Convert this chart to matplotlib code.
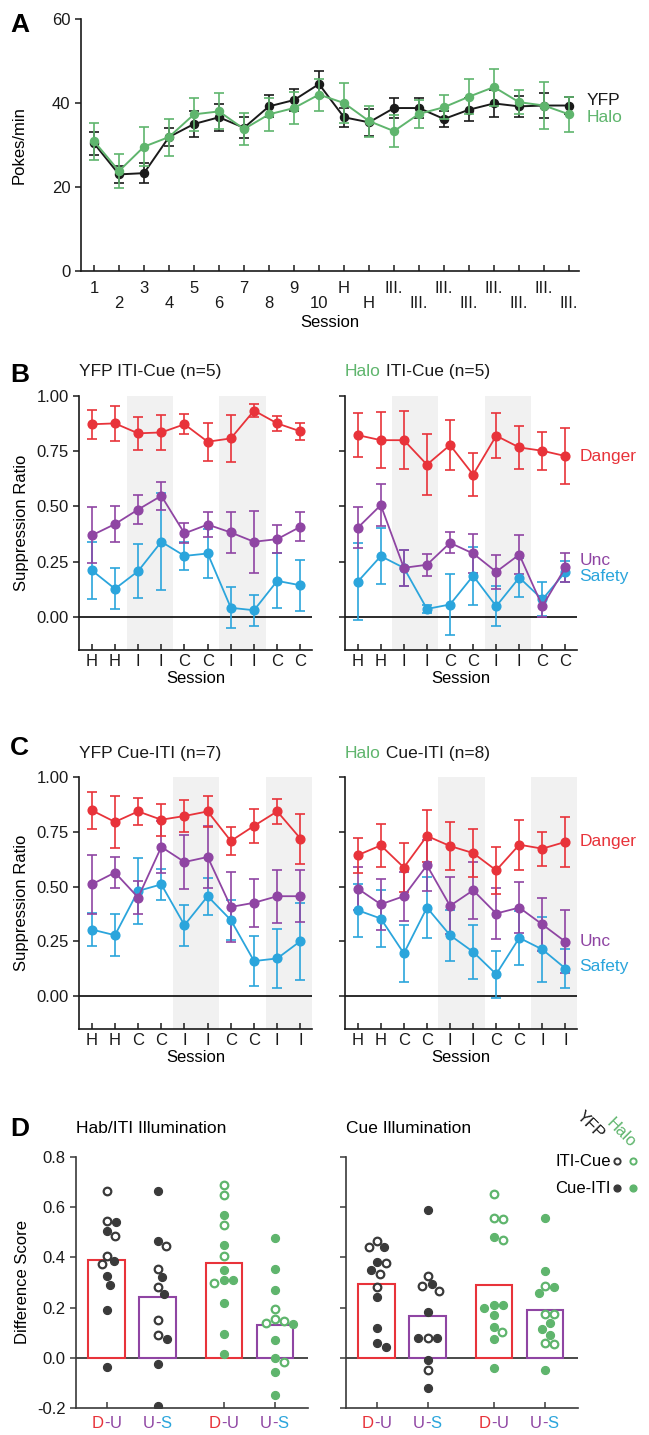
import matplotlib
matplotlib.use("Agg")
import matplotlib.pyplot as plt
import numpy as np
from matplotlib import transforms

plt.rcParams["font.family"] = ["Liberation Sans", "DejaVu Sans"]
plt.rcParams["font.size"] = 12

W, H = 649, 1435
BLACK = "#1a1a1a"
GREEN = "#5fb56d"
RED = "#e8333a"
PURPLE = "#8f45a3"
CYAN = "#2ba5dc"
DARK = "#3a3a3a"
SHADE = "#f1f1f1"

# ---- panel A: pokes per minute across sessions ----
A_SESSIONS = ["1", "2", "3", "4", "5", "6", "7", "8", "9", "10", "H", "H",
              "III.", "III.", "III.", "III.", "III.", "III.", "III.", "III."]
YFP_POKES = [30.4, 23.0, 23.3, 31.9, 35.0, 36.6, 34.1, 39.2, 40.7, 44.5,
             36.6, 35.4, 38.8, 38.8, 36.2, 38.4, 39.9, 39.2, 39.4, 39.4]
YFP_POKES_ERR = [2.7, 2.1, 2.3, 2.2, 3.2, 3.2, 2.5, 2.6, 2.6, 3.1,
                 2.3, 3.2, 2.4, 2.3, 1.9, 2.7, 3.2, 2.5, 2.9, 2.0]
HALO_POKES = [30.9, 23.8, 29.6, 31.9, 37.3, 38.0, 33.8, 37.3, 38.8, 42.0,
              40.0, 35.7, 33.3, 37.4, 39.0, 41.5, 43.8, 40.2, 39.4, 37.3]
HALO_POKES_ERR = [4.4, 4.0, 4.6, 4.4, 4.0, 4.3, 3.8, 4.0, 3.8, 3.8,
                  4.8, 3.7, 3.8, 3.4, 2.8, 4.1, 4.4, 2.8, 5.7, 4.2]

# ---- panel B: ITI-Cue groups ----
B_SESSIONS = ["H", "H", "I", "I", "C", "C", "I", "I", "C", "C"]
B_SHADE = [(1.5, 3.5), (5.5, 7.5)]
B_YFP_DANGER = [0.872, 0.876, 0.831, 0.835, 0.872, 0.793, 0.808, 0.934, 0.876, 0.840]
B_YFP_DANGER_ERR = [0.065, 0.080, 0.075, 0.078, 0.046, 0.087, 0.107, 0.028, 0.035, 0.038]
B_YFP_UNC = [0.369, 0.420, 0.486, 0.548, 0.378, 0.418, 0.382, 0.340, 0.352, 0.408]
B_YFP_UNC_ERR = [0.127, 0.082, 0.065, 0.064, 0.045, 0.057, 0.093, 0.141, 0.065, 0.066]
B_YFP_SAFETY = [0.211, 0.127, 0.207, 0.340, 0.276, 0.287, 0.041, 0.030, 0.163, 0.143]
B_YFP_SAFETY_ERR = [0.128, 0.092, 0.123, 0.219, 0.064, 0.110, 0.093, 0.070, 0.124, 0.115]
B_HALO_DANGER = [0.823, 0.800, 0.800, 0.689, 0.778, 0.644, 0.820, 0.767, 0.752, 0.728]
B_HALO_DANGER_ERR = [0.100, 0.128, 0.132, 0.138, 0.113, 0.098, 0.102, 0.099, 0.087, 0.125]
B_HALO_UNC = [0.403, 0.506, 0.222, 0.236, 0.335, 0.287, 0.204, 0.282, 0.048, 0.224]
B_HALO_UNC_ERR = [0.093, 0.094, 0.083, 0.050, 0.048, 0.089, 0.078, 0.087, 0.047, 0.065]
B_HALO_SAFETY = [0.159, 0.275, 0.222, 0.036, 0.056, 0.186, 0.048, 0.178, 0.079, 0.204]
B_HALO_SAFETY_ERR = [0.174, 0.128, 0.080, 0.020, 0.140, 0.130, 0.090, 0.087, 0.077, 0.047]

# ---- panel C: Cue-ITI groups ----
C_SESSIONS = ["H", "H", "C", "C", "I", "I", "C", "C", "I", "I"]
C_SHADE = [(3.5, 5.5), (7.5, 9.5)]
C_YFP_DANGER = [0.848, 0.795, 0.843, 0.805, 0.822, 0.843, 0.708, 0.777, 0.843, 0.719]
C_YFP_DANGER_ERR = [0.085, 0.118, 0.062, 0.072, 0.075, 0.070, 0.066, 0.076, 0.058, 0.114]
C_YFP_UNC = [0.510, 0.564, 0.450, 0.681, 0.612, 0.635, 0.407, 0.426, 0.456, 0.456]
C_YFP_UNC_ERR = [0.133, 0.072, 0.076, 0.120, 0.122, 0.140, 0.158, 0.110, 0.120, 0.118]
C_YFP_SAFETY = [0.304, 0.278, 0.480, 0.510, 0.324, 0.456, 0.347, 0.160, 0.172, 0.251]
C_YFP_SAFETY_ERR = [0.076, 0.097, 0.152, 0.072, 0.093, 0.084, 0.091, 0.116, 0.133, 0.176]
C_HALO_DANGER = [0.643, 0.688, 0.587, 0.731, 0.685, 0.653, 0.574, 0.691, 0.673, 0.704]
C_HALO_DANGER_ERR = [0.080, 0.097, 0.110, 0.120, 0.110, 0.110, 0.108, 0.115, 0.077, 0.114]
C_HALO_UNC = [0.491, 0.419, 0.456, 0.597, 0.412, 0.483, 0.377, 0.404, 0.327, 0.248]
C_HALO_UNC_ERR = [0.100, 0.116, 0.112, 0.116, 0.130, 0.129, 0.115, 0.115, 0.119, 0.143]
C_HALO_SAFETY = [0.392, 0.354, 0.195, 0.404, 0.278, 0.202, 0.100, 0.266, 0.213, 0.126]
C_HALO_SAFETY_ERR = [0.120, 0.130, 0.130, 0.138, 0.116, 0.122, 0.108, 0.122, 0.150, 0.088]

# ---- panel D: difference scores (open = ITI-Cue, filled = Cue-ITI) ----
HAB_YFP_DU_ITICUE = [0.664, 0.547, 0.484, 0.407, 0.373]
HAB_YFP_DU_CUEITI = [0.540, 0.504, 0.384, 0.327, 0.291, 0.189, -0.036]
HAB_YFP_US_ITICUE = [0.447, 0.353, 0.284, 0.149, 0.089]
HAB_YFP_US_CUEITI = [0.664, 0.467, 0.320, 0.253, 0.073, -0.023, -0.193]
HAB_HALO_DU_ITICUE = [0.687, 0.649, 0.529, 0.407, 0.300]
HAB_HALO_DU_CUEITI = [0.567, 0.449, 0.349, 0.311, 0.311, 0.220, 0.093, 0.017]
HAB_HALO_US_ITICUE = [0.196, 0.147, 0.153, 0.140, -0.017]
HAB_HALO_US_CUEITI = [0.477, 0.353, 0.271, 0.133, 0.071, 0.000, -0.056, -0.147]

CUE_YFP_DU_ITICUE = [0.467, 0.440, 0.376, 0.332, 0.284]
CUE_YFP_DU_CUEITI = [0.443, 0.383, 0.351, 0.244, 0.120, 0.044, 0.060]
CUE_YFP_US_ITICUE = [0.327, 0.287, 0.267, 0.080, -0.047]
CUE_YFP_US_CUEITI = [0.589, 0.293, 0.183, 0.080, 0.080, -0.009, -0.120]
CUE_HALO_DU_ITICUE = [0.653, 0.553, 0.556, 0.471, 0.103]
CUE_HALO_DU_CUEITI = [0.483, 0.200, 0.211, 0.211, 0.169, 0.124, 0.076, -0.040]
CUE_HALO_US_ITICUE = [0.287, 0.173, 0.173, 0.057, 0.053]
CUE_HALO_US_CUEITI = [0.557, 0.347, 0.284, 0.257, 0.140, 0.113, 0.089, -0.047]

D_POS = [0, 1, 2.3, 3.3]


def px_axes(fig, left, top, right, bottom):
    return fig.add_axes([left / W, 1 - bottom / H, (right - left) / W, (bottom - top) / H])


def clean(ax, color=BLACK):
    for s in ("top", "right"):
        ax.spines[s].set_visible(False)
    for s in ("left", "bottom"):
        ax.spines[s].set_color(color)
        ax.spines[s].set_linewidth(1.2)
    ax.tick_params(colors=color, labelcolor=BLACK, width=1.1)


def three_part(ax, x, left, right, c_left, c_mid, c_right):
    # hyphen centred on the tick, the two letters hung on either side
    mid = ax.annotate("-", xy=(x, 0), xycoords=("data", "axes fraction"),
                      xytext=(0, -6), textcoords="offset points",
                      ha="center", va="top", color=c_mid, fontsize=12)
    ax.annotate(left, xy=(0, 0), xycoords=mid, ha="right", va="bottom",
                color=c_left, fontsize=12)
    ax.annotate(right, xy=(1, 0), xycoords=mid, ha="left", va="bottom",
                color=c_right, fontsize=12)


def ratio_panel(ax, sessions, shade, series, left_labels, title_parts, side_labels=None):
    x = np.arange(len(sessions))
    for a, b in shade:
        ax.axvspan(a, b, color=SHADE, lw=0, zorder=0)
    ax.axhline(0, color=BLACK, lw=1.3, zorder=1)
    for vals, errs, col in series:
        ax.errorbar(x, vals, yerr=errs, color=col, marker="o", ms=6.3, lw=1.3,
                    elinewidth=1.2, capsize=3.6, capthick=1.2, zorder=3)
    ax.set_xlim(-0.55, 9.5)
    ax.set_ylim(-0.15, 1.0)
    ax.set_yticks([0, 0.25, 0.5, 0.75, 1.0])
    clean(ax)
    ax.tick_params(axis="y", direction="out", length=4)
    ax.tick_params(axis="x", direction="in", length=4, pad=3)
    ax.set_xticks(x, sessions)
    if left_labels:
        ax.set_yticklabels(["0.00", "0.25", "0.50", "0.75", "1.00"])
        ax.set_ylabel("Suppression Ratio")
        ax.yaxis.set_label_coords(-0.215, 0.5)
    else:
        ax.set_yticklabels([])
    ax.set_xlabel("Session", labelpad=1)
    # title made of coloured pieces
    prev = None
    for txt, col in title_parts:
        if prev is None:
            prev = ax.text(0, 1.095, txt, color=col, transform=ax.transAxes,
                           ha="left", va="center", fontsize=12.5)
        else:
            prev = ax.annotate(txt, xy=(1, 0), xycoords=prev, ha="left", va="bottom",
                               color=col, fontsize=12.5)
    if side_labels:
        tr = transforms.blended_transform_factory(ax.transAxes, ax.transData)
        for txt, yv, col in side_labels:
            ax.text(1.01, yv, txt, color=col, transform=tr, ha="left", va="center",
                    fontsize=12.5, clip_on=False)


def swarm_offsets(values, xscale, yscale, diam):
    vals = np.asarray(values, dtype=float)
    order = np.argsort(-vals)
    placed = []
    offs = np.zeros(len(vals))
    cand = [0.0]
    for k in range(1, 40):
        cand += [k * 0.6, -k * 0.6]
    for i in order:
        yp = vals[i] * yscale
        for c in cand:
            ok = all((c - px) ** 2 + (yp - py) ** 2 >= diam ** 2 for px, py in placed)
            if ok:
                offs[i] = c
                placed.append((c, yp))
                break
    return offs / xscale


def diff_panel(ax, groups, left_labels, title):
    ax.axhline(0, color=DARK, lw=1.3, zorder=1)
    xscale = 232 / 4.55
    yscale = 251.0
    for (xp, bar_col, pt_col, open_vals, fill_vals) in groups:
        allv = list(open_vals) + list(fill_vals)
        ax.bar(xp, np.mean(allv), width=0.72, facecolor="white", edgecolor=bar_col,
               lw=1.5, zorder=2)
        offs = swarm_offsets(allv, xscale, yscale, 9.5)
        n_open = len(open_vals)
        ax.scatter(xp + offs[:n_open], open_vals, s=30, facecolor="white",
                   edgecolor=pt_col, lw=1.6, zorder=4)
        ax.scatter(xp + offs[n_open:], fill_vals, s=34, facecolor=pt_col,
                   edgecolor=pt_col, lw=0.8, zorder=4)
    ax.set_xlim(-0.6, 3.95)
    ax.set_ylim(-0.2, 0.8)
    ax.set_yticks([-0.2, 0, 0.2, 0.4, 0.6, 0.8])
    clean(ax, DARK)
    ax.tick_params(axis="y", direction="out", length=4)
    ax.tick_params(axis="x", direction="in", length=4)
    ax.set_xticks(D_POS, [""] * 4)
    if left_labels:
        ax.set_yticklabels(["-0.2", "0.0", "0.2", "0.4", "0.6", "0.8"])
        ax.set_ylabel("Difference Score")
        ax.yaxis.set_label_coords(-0.2, 0.5)
    else:
        ax.set_yticklabels([])
    for i, xp in enumerate(D_POS):
        if i % 2 == 0:
            three_part(ax, xp, "D", "U", RED, PURPLE, PURPLE)
        else:
            three_part(ax, xp, "U", "S", PURPLE, PURPLE, CYAN)
    ax.text(0, 1.115, title, transform=ax.transAxes, ha="left", va="center",
            fontsize=12.5)


fig = plt.figure(figsize=(W / 100, H / 100), dpi=100)

# panel A
axA = px_axes(fig, 81, 19, 579, 271)
xa = np.arange(len(A_SESSIONS))
axA.errorbar(xa, YFP_POKES, yerr=YFP_POKES_ERR, color=BLACK, marker="o", ms=5.8,
             lw=1.4, elinewidth=1.2, capsize=3.8, capthick=1.2, zorder=3)
axA.errorbar(xa, HALO_POKES, yerr=HALO_POKES_ERR, color=GREEN, marker="o", ms=5.8,
             lw=1.4, elinewidth=1.2, capsize=3.8, capthick=1.2, zorder=4)
axA.set_xlim(-0.52, 19.4)
axA.set_ylim(0, 60)
axA.set_yticks([0, 20, 40, 60])
clean(axA)
axA.tick_params(axis="y", direction="out", length=4)
axA.tick_params(axis="x", direction="in", length=4, pad=7)
axA.set_xticks(xa, [s if i % 2 == 0 else "\n" + s for i, s in enumerate(A_SESSIONS)])
for t in axA.get_xticklabels():
    t.set_linespacing(1.0)
axA.set_xlabel("Session", labelpad=3)
axA.set_ylabel("Pokes/min")
axA.yaxis.set_label_coords(-0.11, 0.5)
trA = transforms.blended_transform_factory(axA.transAxes, axA.transData)
axA.text(1.016, 40.7, "YFP", color=BLACK, transform=trA, ha="left", va="center",
         fontsize=12.5)
axA.text(1.016, 36.5, "Halo", color=GREEN, transform=trA, ha="left", va="center",
         fontsize=12.5)

# panel B
axBL = px_axes(fig, 79, 396, 312, 650)
ratio_panel(axBL, B_SESSIONS, B_SHADE,
            [(B_YFP_SAFETY, B_YFP_SAFETY_ERR, CYAN), (B_YFP_UNC, B_YFP_UNC_ERR, PURPLE),
             (B_YFP_DANGER, B_YFP_DANGER_ERR, RED)],
            True, [("YFP ITI-Cue (n=5)", BLACK)])
axBR = px_axes(fig, 345, 396, 577, 650)
ratio_panel(axBR, B_SESSIONS, B_SHADE,
            [(B_HALO_SAFETY, B_HALO_SAFETY_ERR, CYAN), (B_HALO_UNC, B_HALO_UNC_ERR, PURPLE),
             (B_HALO_DANGER, B_HALO_DANGER_ERR, RED)],
            False, [("Halo", GREEN), (" ITI-Cue (n=5)", BLACK)],
            [("Danger", 0.728, RED), ("Unc", 0.257, PURPLE), ("Safety", 0.181, CYAN)])

# panel C
axCL = px_axes(fig, 79, 777, 312, 1029)
ratio_panel(axCL, C_SESSIONS, C_SHADE,
            [(C_YFP_SAFETY, C_YFP_SAFETY_ERR, CYAN), (C_YFP_UNC, C_YFP_UNC_ERR, PURPLE),
             (C_YFP_DANGER, C_YFP_DANGER_ERR, RED)],
            True, [("YFP Cue-ITI (n=7)", BLACK)])
axCR = px_axes(fig, 345, 777, 577, 1029)
ratio_panel(axCR, C_SESSIONS, C_SHADE,
            [(C_HALO_SAFETY, C_HALO_SAFETY_ERR, CYAN), (C_HALO_UNC, C_HALO_UNC_ERR, PURPLE),
             (C_HALO_DANGER, C_HALO_DANGER_ERR, RED)],
            False, [("Halo", GREEN), (" Cue-ITI (n=8)", BLACK)],
            [("Danger", 0.704, RED), ("Unc", 0.248, PURPLE), ("Safety", 0.134, CYAN)])

# panel D
axDL = px_axes(fig, 76, 1157, 308, 1408)
diff_panel(axDL, [
    (D_POS[0], RED, DARK, HAB_YFP_DU_ITICUE, HAB_YFP_DU_CUEITI),
    (D_POS[1], PURPLE, DARK, HAB_YFP_US_ITICUE, HAB_YFP_US_CUEITI),
    (D_POS[2], RED, GREEN, HAB_HALO_DU_ITICUE, HAB_HALO_DU_CUEITI),
    (D_POS[3], PURPLE, GREEN, HAB_HALO_US_ITICUE, HAB_HALO_US_CUEITI),
], True, "Hab/ITI Illumination")
axDR = px_axes(fig, 346, 1157, 578, 1408)
diff_panel(axDR, [
    (D_POS[0], RED, DARK, CUE_YFP_DU_ITICUE, CUE_YFP_DU_CUEITI),
    (D_POS[1], PURPLE, DARK, CUE_YFP_US_ITICUE, CUE_YFP_US_CUEITI),
    (D_POS[2], RED, GREEN, CUE_HALO_DU_ITICUE, CUE_HALO_DU_CUEITI),
    (D_POS[3], PURPLE, GREEN, CUE_HALO_US_ITICUE, CUE_HALO_US_CUEITI),
], False, "Cue Illumination")

# legend for D (outside right axes)
ta = axDR.transAxes
axDR.text(1.142, 0.984, "ITI-Cue", transform=ta, ha="right", va="center", fontsize=12)
axDR.text(1.142, 0.876, "Cue-ITI", transform=ta, ha="right", va="center", fontsize=12)
axDR.scatter([1.168], [0.984], transform=ta, s=20, facecolor="white", edgecolor=DARK,
             lw=1.4, clip_on=False)
axDR.scatter([1.237], [0.984], transform=ta, s=20, facecolor="white", edgecolor=GREEN,
             lw=1.4, clip_on=False)
axDR.scatter([1.168], [0.876], transform=ta, s=24, facecolor=DARK, edgecolor=DARK,
             clip_on=False)
axDR.scatter([1.237], [0.876], transform=ta, s=24, facecolor=GREEN, edgecolor=GREEN,
             clip_on=False)
axDR.text(1.103, 1.080, "YFP", transform=ta, rotation=-45, rotation_mode="anchor",
          ha="right", va="center", fontsize=12, color=BLACK)
axDR.text(1.237, 1.048, "Halo", transform=ta, rotation=-45, rotation_mode="anchor",
          ha="right", va="center", fontsize=12, color=GREEN)

# panel letters
for letter, ypx in (("A", 25), ("B", 375), ("C", 748), ("D", 1129)):
    fig.text(10 / W, 1 - ypx / H, letter, fontsize=19, fontweight="bold",
             ha="left", va="center")

fig.savefig("out.png", dpi=100)
